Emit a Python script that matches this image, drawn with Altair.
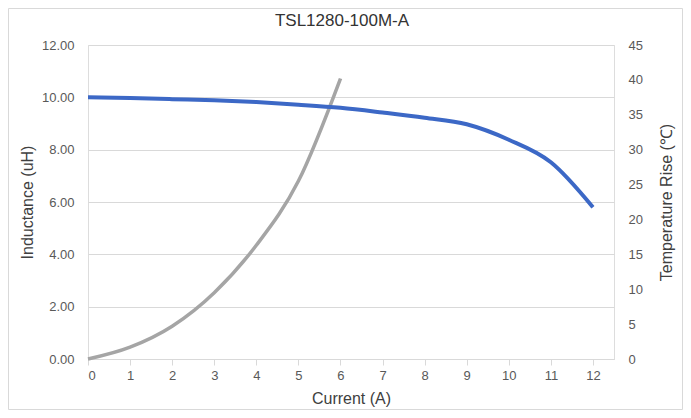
import altair as alt
import pandas as pd

current_l = [0, 1, 2, 3, 4, 5, 6, 7, 8, 9, 10, 11, 12]
inductance = [10.0, 9.97, 9.93, 9.89, 9.82, 9.72, 9.6, 9.42, 9.22, 8.97, 8.38, 7.52, 5.8]
current_t = [0, 1, 2, 3, 4, 5, 6]
temp_rise = [0, 1.7, 4.7, 9.5, 16.3, 25.5, 40.2]

df_l = pd.DataFrame({"Current": current_l, "Inductance": inductance})
df_t = pd.DataFrame({"Current": current_t, "Temp": temp_rise})

FONT = "Liberation Sans"
xscale = alt.Scale(domain=[0, 12.5], nice=False, zero=False)
xaxis = alt.Axis(values=list(range(13)), title="Current (A)", grid=False,
                 domainColor="#d9d9d9", tickColor="#d9d9d9", tickSize=6,
                 labelFontSize=13, labelColor="#595959", labelPadding=4,
                 titleFontSize=16, titleColor="#404040", titlePadding=8, titleFontWeight="normal",
                 labelFont=FONT, titleFont=FONT)

blue = alt.Chart(df_l).mark_line(color="#3c68c6", strokeWidth=4, interpolate="monotone").encode(
    x=alt.X("Current:Q", scale=xscale, axis=xaxis),
    y=alt.Y("Inductance:Q", scale=alt.Scale(domain=[0, 12], nice=False),
            axis=alt.Axis(values=[0, 2, 4, 6, 8, 10, 12], format=".2f", title="Inductance (uH)",
                          grid=True, gridColor="#d9d9d9", domain=False, ticks=False,
                          labelFontSize=13, labelColor="#595959", labelPadding=14,
                          titleFontSize=16, titleColor="#404040", titlePadding=6,
                          titleFontWeight="normal", labelFont=FONT, titleFont=FONT)),
)

gray = alt.Chart(df_t).mark_line(color="#a5a5a5", strokeWidth=3.5, interpolate="monotone").encode(
    x=alt.X("Current:Q", scale=xscale),
    y=alt.Y("Temp:Q", scale=alt.Scale(domain=[0, 45], nice=False),
            axis=alt.Axis(values=list(range(0, 50, 5)), title="Temperature Rise (℃)", orient="right",
                          grid=False, domain=False, ticks=False,
                          labelFontSize=13, labelColor="#595959", labelPadding=14,
                          titleFontSize=16, titleColor="#404040", titlePadding=32, titleAngle=270,
                          titleFontWeight="normal", labelFont=FONT, titleFont=FONT)),
)

border = alt.Chart(pd.DataFrame({"b": [0]})).mark_rect(fill=None, stroke="#d9d9d9", strokeWidth=1).encode(
    x=alt.value(-79.5), x2=alt.value(594.5), y=alt.value(-36.5), y2=alt.value(364.5)
)

chart = alt.layer(border, gray, blue).resolve_scale(y="independent").properties(
    width=526, height=314,
    autosize=alt.AutoSizeParams(type="none"),
    padding={"left": 80, "top": 37, "right": 69, "bottom": 51},
    title=alt.TitleParams("TSL1280-100M-A", fontSize=17, fontWeight="normal", color="#333333",
                          font=FONT, anchor="middle", offset=-22, dx=-9),
).configure_view(stroke=None).configure(background="white")

chart.save("out.html", embed_options={"renderer": "svg", "actions": False})
